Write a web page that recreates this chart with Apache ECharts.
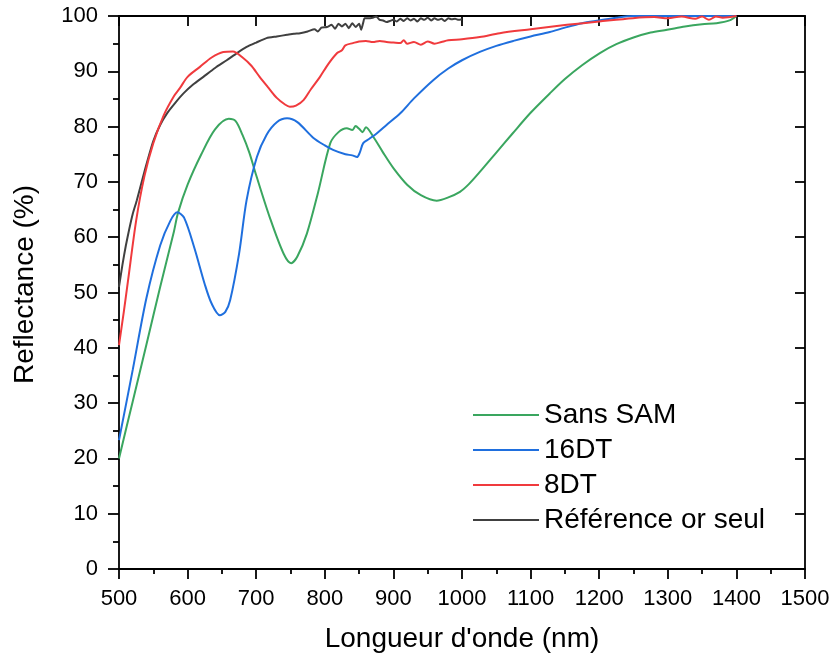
<!DOCTYPE html>
<html>
<head>
<meta charset="utf-8">
<script src="https://cdn.jsdelivr.net/npm/echarts@6/dist/echarts.min.js"></script>
<style>html,body{margin:0;padding:0;background:#fff;}#c{width:833px;height:655px;}</style>
</head>
<body>
<div id="c"></div>
<script>
const xTicks = [500, 600, 700, 800, 900, 1000, 1100, 1200, 1300, 1400, 1500];
const yTicks = [0, 10, 20, 30, 40, 50, 60, 70, 80, 90, 100];
const seriesNames = ['Sans SAM', '16DT', '8DT', 'Référence or seul'];

const greenX = [500,520,540,560,580,586,600,620,640,660,670,680,690,700,720,740,751,760,774,790,808,820,832,840,845,850,855,860,870,885,900,920,940,963,980,997,1010,1026,1050,1074,1100,1128,1150,1175,1201,1225,1250,1275,1299,1325,1350,1371,1390,1400];
const greenY = [20,30.3,40.6,51,61,64.4,69.5,75,79.5,81.4,81,78.5,75.3,71.2,63.5,57,55.3,56.5,60.7,68,77,79,79.7,79.4,80.1,79.6,79,79.9,78.3,75.3,72.5,69.5,67.6,66.6,67.2,68.2,69.6,71.8,75.3,78.8,82.5,86,88.6,91.1,93.3,94.9,96.1,97,97.5,98.1,98.5,98.7,99.2,100];

const blueX = [500,520,540,560,575,585,595,610,625,635,647,655,662,675,686,701,715,730,745,760,783,800,812,830,840,847,851,856,865,876,890,910,930,958,980,1000,1026,1050,1075,1100,1128,1150,1175,1200,1225,1250,1300,1350,1400];
const blueY = [23.3,36,49,58.5,63,64.5,63.5,58,51.5,48,45.9,46.5,48.6,57,66.7,74.5,78.5,80.8,81.5,80.8,78,76.6,75.8,75,74.8,74.5,75.3,77,77.8,78.8,80.3,82.4,85.1,88.4,90.5,92,93.5,94.6,95.5,96.3,97.1,97.9,98.7,99.2,99.7,100,100,100,100];

const redX = [500,507,513,525,537,550,565,580,589,600,618,635,652,666,681,693,705,718,730,742,749,758,769,780,793,805,818,825,830,841,850,860,870,880,890,900,910,915,920,930,940,950,960,970,980,1000,1026,1055,1100,1153,1200,1249,1280,1300,1320,1340,1350,1360,1370,1380,1400];
const redY = [40.5,46.5,52,63,71,77,82,85.5,87,89,90.8,92.5,93.5,93.6,92.4,91,89,87,85.2,84,83.6,83.8,84.8,86.8,89,91.3,93.3,93.8,94.7,95.1,95.4,95.5,95.3,95.5,95.3,95.2,95.1,95.6,95,95.3,94.8,95.4,95,95.3,95.6,95.8,96.2,96.9,97.6,98.4,99,99.6,99.8,99.6,99.9,99.5,99.9,99.3,99.9,99.7,100];

const blackX = [500,505,510,515,520,526,538,550,560,570,582,594,608,623,640,657,672,686,700,715,730,745,755,764,775,785,790,795,803,810,815,820,825,830,835,840,845,850,853,856,858,862,870,875,880,885,890,895,900,905,910,915,920,925,930,935,940,945,950,955,960,965,970,975,980,985,990,995,1000];
const blackY = [51,55,58.5,61.5,64.2,66.7,72.3,77.4,80.3,82.4,84.3,86,87.6,89,90.6,92,93.3,94.4,95.2,96,96.3,96.6,96.8,96.9,97.2,97.6,97.2,97.9,98,98.4,97.7,98.6,98.1,98.6,97.8,98.7,98,98.6,97.5,98.8,99.6,99.6,99.7,99.9,99.3,99.2,98.9,99.1,99.3,99,99.5,99.1,99.6,99.2,99.5,99,99.6,99.3,99.7,99.2,99.6,99.3,99.5,99.1,99.6,99.4,99.5,99.3,99.4];

const colors = ['#3aa65f', '#1f6fde', '#f03a3d', '#404040'];
const font = 'Liberation Sans, Arial, sans-serif';

function pairs(xs, ys) { return xs.map((x, i) => [x, ys[i]]); }
const allData = [pairs(greenX, greenY), pairs(blueX, blueY), pairs(redX, redY), pairs(blackX, blackY)];

const chart = echarts.init(document.getElementById('c'), null, {renderer: 'canvas'});
const axisLine = {show: true, onZero: false, lineStyle: {color: '#000', width: 1.8}};
const plain = v => String(v);
chart.setOption({
  animation: false,
  backgroundColor: '#fff',
  grid: {left: 119, right: 28, top: 16, bottom: 86, containLabel: false, outerBoundsMode: 'none'},
  legend: {
    orient: 'vertical', left: 473, top: 401, padding: 0,
    icon: 'rect', itemWidth: 66, itemHeight: 2, itemGap: 7,
    data: seriesNames,
    textStyle: {fontFamily: font, fontSize: 28, color: '#000', lineHeight: 28}
  },
  xAxis: [{
    type: 'value', min: xTicks[0], max: xTicks[xTicks.length - 1], interval: 100,
    axisLine: axisLine,
    axisTick: {show: true, inside: false, length: 10, lineStyle: {color: '#000', width: 1.8}},
    minorTick: {show: true, splitNumber: 2, length: 5, lineStyle: {color: '#000', width: 1.8}},
    splitLine: {show: false},
    axisLabel: {fontFamily: font, fontSize: 22, color: '#000', margin: 19, formatter: plain},
    name: "Longueur d'onde (nm)", nameLocation: 'middle', nameGap: 56,
    nameTextStyle: {fontFamily: font, fontSize: 28, color: '#000'}
  }, {
    type: 'value', position: 'top', min: xTicks[0], max: xTicks[xTicks.length - 1], interval: 100,
    axisLine: axisLine,
    axisTick: {show: true, inside: true, length: 10, lineStyle: {color: '#000', width: 1.8}},
    axisLabel: {show: false}, splitLine: {show: false}
  }],
  yAxis: [{
    type: 'value', min: yTicks[0], max: yTicks[yTicks.length - 1], interval: 10,
    axisLine: axisLine,
    axisTick: {show: true, inside: false, length: 11, lineStyle: {color: '#000', width: 1.8}},
    minorTick: {show: true, splitNumber: 2, length: 6, lineStyle: {color: '#000', width: 1.8}},
    splitLine: {show: false},
    axisLabel: {fontFamily: font, fontSize: 22, color: '#000', margin: 21, formatter: plain},
    name: 'Reflectance (%)', nameLocation: 'middle', nameGap: 80,
    nameTextStyle: {fontFamily: font, fontSize: 28, color: '#000', padding: [0, 0, 0, 16]}
  }, {
    type: 'value', position: 'right', min: yTicks[0], max: yTicks[yTicks.length - 1], interval: 10,
    axisLine: axisLine,
    axisTick: {show: true, inside: true, length: 10, lineStyle: {color: '#000', width: 1.8}},
    axisLabel: {show: false}, splitLine: {show: false}
  }],
  series: seriesNames.map((n, i) => ({
    name: n, type: 'line', data: allData[i], showSymbol: false, symbol: 'none',
    smooth: i === 3 ? 0.2 : 0.3, z: i === 3 ? 2 : 3,
    color: colors[i],
    lineStyle: {color: colors[i], width: 2}
  }))
});
</script>
</body>
</html>
